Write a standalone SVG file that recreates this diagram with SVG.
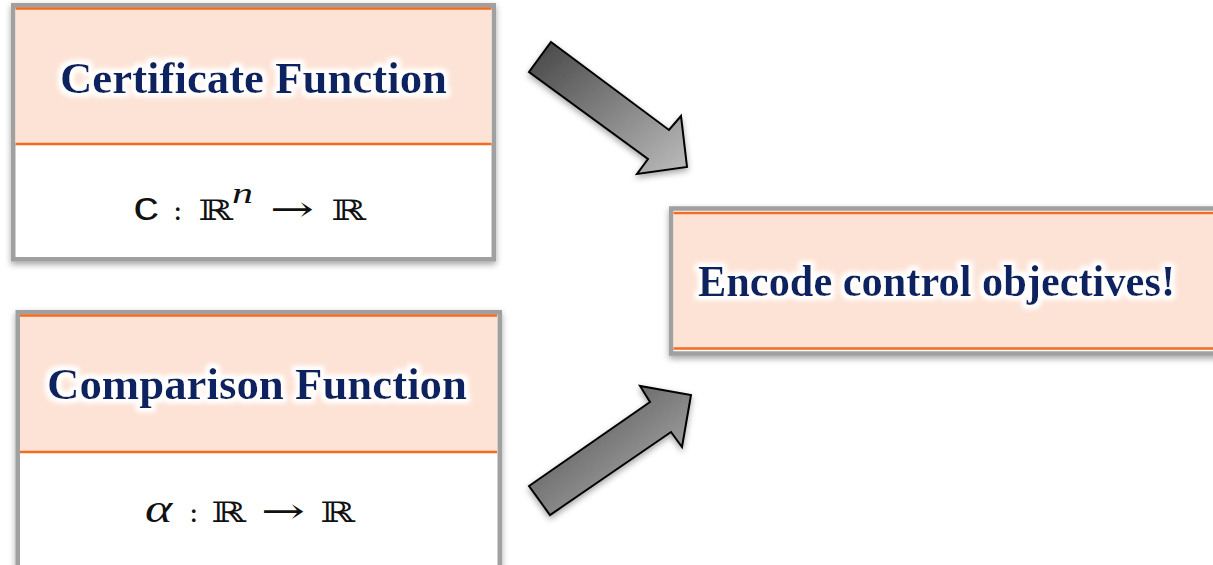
<svg xmlns="http://www.w3.org/2000/svg" width="1213" height="565" viewBox="0 0 1213 565">
<style>
.frame{fill:#ffffff;stroke:#a0a0a0;stroke-width:4.5}
.head{fill:#fde3d6}
.rule{stroke:#f26b21;stroke-width:2.5;fill:none}
.title{font-family:"Liberation Serif",serif;font-weight:bold;font-size:45px;fill:#0b2361}
.bb{font-family:"DejaVu Serif","DejaVu Sans",serif;font-size:28px;fill:#111}
.sym{font-family:"DejaVu Serif","Liberation Serif",serif;font-size:28px;fill:#111}
.to{font-family:"DejaVu Serif","Liberation Serif",serif;font-size:35px;fill:#111}
.it{font-family:"Liberation Serif",serif;font-style:italic;fill:#111}
.tt{font-family:"Liberation Mono",monospace;fill:#111}
.arrow{fill:url(#ag);stroke:#000;stroke-width:2;stroke-linejoin:miter}
</style>
<defs>
<filter id="glow" x="-10%" y="-30%" width="120%" height="160%">
<feMorphology in="SourceAlpha" operator="dilate" radius="2.5" result="d"/>
<feGaussianBlur in="d" stdDeviation="2.5" result="b"/>
<feFlood flood-color="#ffffff"/>
<feComposite in2="b" operator="in" result="w"/>
<feMerge><feMergeNode in="w"/><feMergeNode in="w"/><feMergeNode in="SourceGraphic"/></feMerge>
</filter>
<filter id="shadow" x="-10%" y="-10%" width="120%" height="120%">
<feGaussianBlur in="SourceAlpha" stdDeviation="3" result="b"/>
<feOffset dx="0" dy="3" result="o"/>
<feFlood flood-color="#000" flood-opacity="0.35"/>
<feComposite in2="o" operator="in" result="s"/>
<feMerge><feMergeNode in="s"/><feMergeNode in="SourceGraphic"/></feMerge>
</filter>
<linearGradient id="ag" x1="0" y1="0" x2="1" y2="1">
<stop offset="0" stop-color="#444444"/>
<stop offset="1" stop-color="#bdbdbd"/>
</linearGradient>
</defs>

<g id="certificate">
<rect class="frame" x="13.25" y="5.25" width="480.5" height="254" filter="url(#shadow)"/>
<rect class="head" x="15.5" y="8" width="476" height="136"/>
<line class="rule" x1="15.5" y1="8.5" x2="491.5" y2="8.5" stroke-width="1.5"/>
<line class="rule" x1="15.5" y1="144" x2="491.5" y2="144"/>
<text class="title" x="60" y="93" textLength="387" lengthAdjust="spacingAndGlyphs" filter="url(#glow)">Certificate Function</text>
<text class="tt" font-size="34" transform="translate(133,220) scale(1.3,1)">C</text>
<text class="sym" transform="translate(173,220)">:</text>
<text class="bb" transform="translate(198,220) scale(1.5,1)">ℝ</text>
<text class="it" font-size="30" transform="translate(232,203) scale(1.4,1)">n</text>
<text class="to" transform="translate(270,221) scale(1.5,1)">→</text>
<text class="bb" transform="translate(331,220) scale(1.5,1)">ℝ</text>
</g>

<g id="comparison">
<rect class="frame" x="17.75" y="312.25" width="482" height="270" filter="url(#shadow)"/>
<rect class="head" x="20" y="315" width="477" height="137"/>
<line class="rule" x1="20" y1="315.5" x2="497" y2="315.5" stroke-width="1.5"/>
<line class="rule" x1="20" y1="452" x2="497" y2="452"/>
<text class="title" x="47" y="399" textLength="420" lengthAdjust="spacingAndGlyphs" filter="url(#glow)">Comparison Function</text>
<text class="it" font-size="40" transform="translate(145,522) scale(1.3,1)">α</text>
<text class="sym" transform="translate(189,522)">:</text>
<text class="bb" transform="translate(211,522) scale(1.5,1)">ℝ</text>
<text class="to" transform="translate(261,523) scale(1.5,1)">→</text>
<text class="bb" transform="translate(320,522) scale(1.5,1)">ℝ</text>
</g>

<g id="objectives">
<rect class="frame" x="671.25" y="208.5" width="560" height="145" filter="url(#shadow)"/>
<rect class="head" x="673.5" y="212" width="560" height="137"/>
<line class="rule" x1="673.5" y1="213" x2="1213" y2="213" stroke-width="1.5"/>
<line class="rule" x1="673.5" y1="348.5" x2="1213" y2="348.5"/>
<text class="title" x="698" y="296" textLength="477" lengthAdjust="spacingAndGlyphs" filter="url(#glow)">Encode control objectives!</text>
</g>

<g id="connectors" filter="url(#shadow)">
<polygon class="arrow" points="551,42 669,130 681,116 687,167 637,174 648,159 529,72"/>
<polygon class="arrow" points="529,486 650,402 640,386 691,395 682,447 671,432 550,515"/>
</g>
</svg>
